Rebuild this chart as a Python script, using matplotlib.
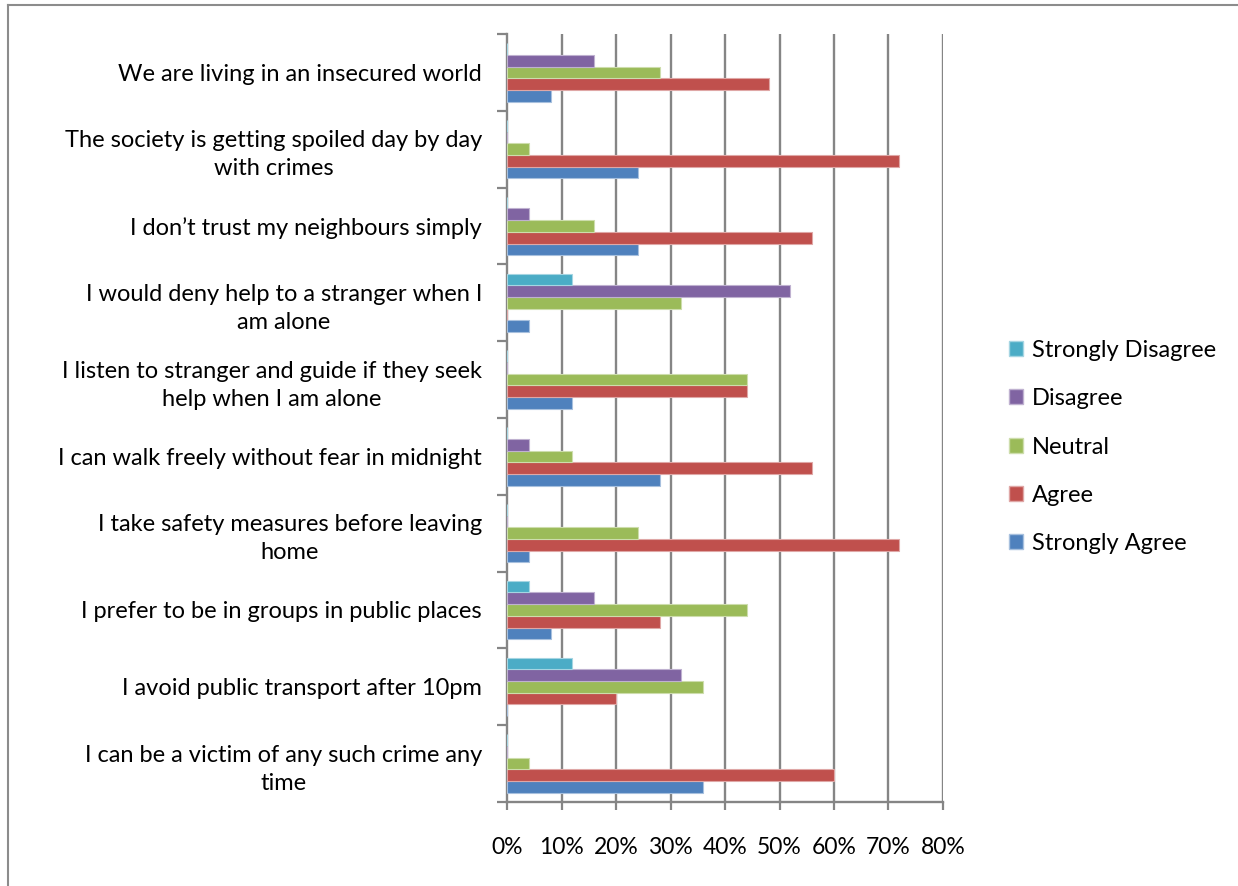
import matplotlib
matplotlib.use('Agg')
import matplotlib.pyplot as plt
from matplotlib.patches import Patch
from matplotlib.lines import Line2D

# survey statements, listed top to bottom
statements = [
    "We are living in an insecured world",
    "The society is getting spoiled day by day\nwith crimes",
    "I don\u2019t trust my neighbours simply",
    "I would deny help to a stranger when I\nam alone",
    "I listen to stranger and guide if they seek\nhelp when I am alone",
    "I can walk freely without fear in midnight",
    "I take safety measures before leaving\nhome",
    "I prefer to be in groups in public places",
    "I avoid public transport after 10pm",
    "I can be a victim of any such crime any\ntime",
]

# share of respondents per answer (same order as statements)
strongly_agree    = [0.08, 0.24, 0.24, 0.04, 0.12, 0.28, 0.04, 0.08, 0.00, 0.36]
agree             = [0.48, 0.72, 0.56, 0.00, 0.44, 0.56, 0.72, 0.28, 0.20, 0.60]
neutral           = [0.28, 0.04, 0.16, 0.32, 0.44, 0.12, 0.24, 0.44, 0.36, 0.04]
disagree          = [0.16, 0.00, 0.04, 0.52, 0.00, 0.04, 0.00, 0.16, 0.32, 0.00]
strongly_disagree = [0.00, 0.00, 0.00, 0.12, 0.00, 0.00, 0.00, 0.04, 0.12, 0.00]

series_names = ["Strongly Agree", "Agree", "Neutral", "Disagree", "Strongly Disagree"]
series_vals = [strongly_agree, agree, neutral, disagree, strongly_disagree]
colors = ["#4F81BD", "#C0504D", "#9BBB59", "#8064A2", "#4BACC6"]
edges = ["#A7C0DE", "#DFA7A6", "#CDDDAC", "#BFB1D0", "#A5D5E2"]

x_ticks = [0, 0.1, 0.2, 0.3, 0.4, 0.5, 0.6, 0.7, 0.8]
x_labels = ["0%", "10%", "20%", "30%", "40%", "50%", "60%", "70%", "80%"]

plt.rcParams['font.family'] = ['Lato', 'DejaVu Sans']

W, H = 1238, 886
fig = plt.figure(figsize=(W / 100, H / 100), dpi=100)
ax = fig.add_axes([507 / W, 1 - 802 / H, (943 - 507) / W, (802 - 34) / H])

n = len(statements)
bar_h = 0.152
centers = [n - i - 0.5 for i in range(n)]
for j, (vals, col, ec) in enumerate(zip(series_vals, colors, edges)):
    ys = [c + (j - 2) * bar_h for c in centers]
    ax.barh(ys, vals, height=bar_h, color=col, edgecolor=ec, linewidth=0.8,
            zorder=3)

ax.set_xlim(0, 0.8)
ax.set_ylim(0, n)

grid_c = "#858585"
for x in x_ticks[1:]:
    ax.axvline(x, color=grid_c, lw=1.7, zorder=1)

for s in ["top", "right"]:
    ax.spines[s].set_visible(False)
for s in ["left", "bottom"]:
    ax.spines[s].set_color(grid_c)
    ax.spines[s].set_linewidth(1.7)

ax.set_xticks(x_ticks)
ax.set_xticklabels(x_labels, fontsize=16.5)
ax.tick_params(axis='x', length=6, width=1.6, color=grid_c, pad=19)

ax.set_yticks(range(n + 1))
ax.set_yticklabels([])
ax.set_yticks(centers, minor=True)
ax.set_yticklabels(statements, minor=True, fontsize=17, ha='right',
                   multialignment='center', linespacing=1.42)
ax.tick_params(axis='y', which='major', length=7, width=1.6, color=grid_c)
ax.tick_params(axis='y', which='minor', length=0, pad=18)

handles = [Patch(facecolor=colors[k], edgecolor=edges[k]) for k in range(4, -1, -1)]
labels = [series_names[k] for k in range(4, -1, -1)]
fig.legend(handles, labels, loc='center left', bbox_to_anchor=(988 / W, 1 - 447 / H),
           frameon=False, fontsize=17, handlelength=0.6, handleheight=0.6,
           handletextpad=0.35, labelspacing=1.16)

# outer chart frame
fig.add_artist(Line2D([8 / W, 1], [1 - 5 / H, 1 - 5 / H], color="#8C8C8C", lw=1.5,
                      transform=fig.transFigure))
fig.add_artist(Line2D([8 / W, 8 / W], [0, 1 - 5 / H], color="#8C8C8C", lw=1.5,
                      transform=fig.transFigure))

fig.savefig("out.png", dpi=100)
